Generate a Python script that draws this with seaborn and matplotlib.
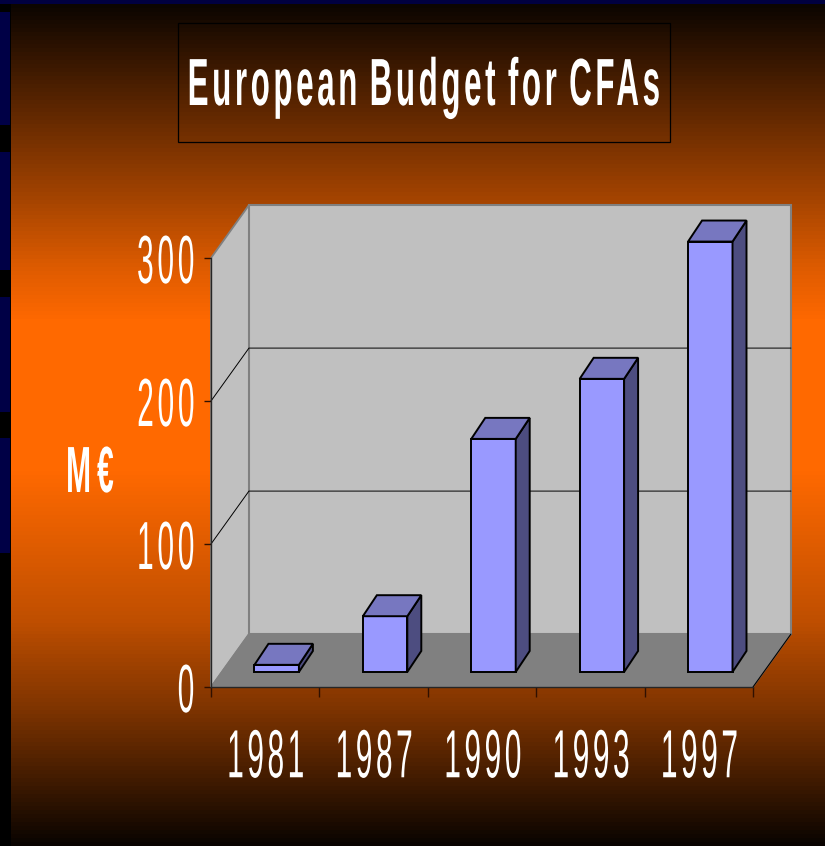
import matplotlib
matplotlib.use("Agg")
import matplotlib.pyplot as plt
from matplotlib.patches import Polygon, Rectangle
from matplotlib.path import Path
from matplotlib.patheffects import AbstractPathEffect
from matplotlib.transforms import Affine2D, Bbox, IdentityTransform
import numpy as np
import pandas as pd
import seaborn as sns

years = ['1981', '1987', '1990', '1993', '1997']
budget = [5, 39, 163, 205, 301]
y_ticks = [0, 100, 200, 300]

W, H = 825, 846
# depth of the fake 3d box in data units (category slots, M euro)
DEPTH_X, DEPTH_Y = 0.35, 37
BAR_SHIFT_X, BAR_SHIFT_Y = 0.106, 10.5
BAR_DEPTH_X, BAR_DEPTH_Y = 0.129, 14.7


class Squeeze(AbstractPathEffect):
    """Narrow a text and space its letters, no condensed font is installed"""

    def __init__(self, sx, track, anchor='center'):
        super().__init__()
        self.sx = sx
        self.track = track
        self.anchor = anchor

    def draw_path(self, renderer, gc, tpath, affine, rgbFace=None):
        verts = affine.transform(tpath.vertices)
        codes = tpath.codes
        real = codes != Path.CLOSEPOLY
        left, right = verts[real, 0].min(), verts[real, 0].max()
        cx = right if self.anchor == 'right' else (left + right) / 2

        # one piece per contour, pieces overlapping in x are the same letter
        pieces = np.split(np.arange(len(verts)), np.flatnonzero(codes == Path.MOVETO)[1:])
        pieces.sort(key=lambda p: verts[p[real[p]], 0].min())
        new = verts.copy()
        new[:, 0] = cx + (verts[:, 0] - cx) * self.sx
        letter = -1
        edge = -np.inf
        for p in pieces:
            if verts[p[real[p]], 0].min() > edge:
                letter += 1
            edge = max(edge, verts[p[real[p]], 0].max())
            new[p, 0] += letter * self.track
        new[:, 0] -= letter * self.track * (1 if self.anchor == 'right' else 0.5)
        renderer.draw_path(gc, Path(new, codes), IdentityTransform(), rgbFace)


def squeeze_text(text, sx, track, anchor='center'):
    text.set_path_effects([Squeeze(sx, track, anchor)])
    full_extent = text.get_window_extent

    # report the narrowed box, not the one of the unsqueezed string
    def narrow_extent(renderer=None, dpi=None):
        box = full_extent(renderer, dpi)
        width = box.width * sx + track * (len(text.get_text()) - 1)
        x1 = box.x1 if anchor == 'right' else (box.x0 + box.x1 + width) / 2
        return Bbox([[x1 - width, box.y0], [x1, box.y1]])

    text.get_window_extent = narrow_extent


sns.set_style("white")
plt.rcParams['font.family'] = ['Liberation Sans', 'DejaVu Sans']

fig = plt.figure(figsize=(W / 100, H / 100), dpi=100, facecolor='black')

# background gradient, black -> orange -> black, in bands like the slide
bg = fig.add_axes([0, 0, 1, 1], zorder=0)
bg.set_axis_off()
rows = np.arange(4, H, 4)
shade = np.interp(rows, [5, 140, 205, 270, 320, 470, 620, 710, 846],
                  [0.05, 0.47, 0.67, 0.88, 1, 1, 0.75, 0.49, 0.03])
levels = shade[:, None, None] * np.array([255, 105, 0]) / 255
bg.imshow(levels, extent=(11, W, H, 4), aspect='auto', interpolation='nearest')
bg.set_xlim(0, W)
bg.set_ylim(H, 0)
bg.add_patch(Rectangle((0, 0), W, 4, color='#000040', lw=0))
for y0, y1 in [(12, 125), (152, 270), (297, 412), (438, 553)]:
    bg.add_patch(Rectangle((0, y0), 10, y1 - y0, color='#000046', lw=0))
bg.add_patch(Rectangle((178, 23), 492, 119, fill=False, ec='black', lw=0.9))

ax = fig.add_axes([211 / W, (H - 687) / H, 542 / W, 429 / H], zorder=1)
df = pd.DataFrame({'year': years, 'budget': budget})
sns.barplot(data=df, x='year', y='budget', ax=ax, width=0.41, color='#9999ff', saturation=1,
            edgecolor='black', linewidth=1.4, zorder=3, clip_on=False)
ax.set_xlim(-0.5, 4.5)
ax.set_ylim(0, 300)
ax.patch.set_alpha(0)
bars = list(ax.patches)

# walls and floor
x0, x1 = -0.5, 4.5
top = max(y_ticks)
ax.add_patch(Polygon([(x0, 0), (x0 + DEPTH_X, DEPTH_Y), (x0 + DEPTH_X, top + DEPTH_Y), (x0, top)],
                     fc='#c0c0c0', ec='#808080', lw=1.3, zorder=0.5, clip_on=False))
ax.add_patch(Polygon([(x0 + DEPTH_X, DEPTH_Y), (x1 + DEPTH_X, DEPTH_Y), (x1 + DEPTH_X, top + DEPTH_Y),
                      (x0 + DEPTH_X, top + DEPTH_Y)],
                     fc='#c0c0c0', ec='#808080', lw=1.5, zorder=0.5, clip_on=False))
ax.add_patch(Polygon([(x0, 0), (x1, 0), (x1 + DEPTH_X, DEPTH_Y), (x0 + DEPTH_X, DEPTH_Y)],
                     fc='#808080', ec='#808080', lw=1, zorder=0.6, clip_on=False))
ax.plot([x1, x1 + DEPTH_X], [0, DEPTH_Y], color='black', lw=0.8, zorder=0.7, clip_on=False)
for t in y_ticks[1:-1]:
    ax.plot([x0, x0 + DEPTH_X, x1 + DEPTH_X], [t, t + DEPTH_Y, t + DEPTH_Y], color='black', lw=0.7,
            zorder=1, clip_on=False)

# move the bars back on the floor and give them a side and a top
shift = Affine2D().translate(BAR_SHIFT_X, BAR_SHIFT_Y) + ax.transData
for bar in bars:
    bar.set_transform(shift)
    left, right, h = bar.get_x(), bar.get_x() + bar.get_width(), bar.get_height()
    side = [(right, 0), (right + BAR_DEPTH_X, BAR_DEPTH_Y), (right + BAR_DEPTH_X, h + BAR_DEPTH_Y), (right, h)]
    lid = [(left, h), (right, h), (right + BAR_DEPTH_X, h + BAR_DEPTH_Y), (left + BAR_DEPTH_X, h + BAR_DEPTH_Y)]
    ax.add_patch(Polygon(side, fc='#4d4d80', ec='black', lw=1.4, zorder=3, clip_on=False, transform=shift))
    ax.add_patch(Polygon(lid, fc='#7777c0', ec='black', lw=1.4, zorder=3, clip_on=False, transform=shift))

sns.despine(ax=ax)
ax.spines['left'].set_linewidth(1.0)
ax.spines['bottom'].set_linewidth(1.0)
ax.set_xlabel('')
ax.set_ylabel('')
ax.set_yticks(y_ticks)
ax.set_yticklabels(y_ticks)
ax.set_xticks(np.arange(-0.5, 5), minor=True)
ax.tick_params(axis='x', which='minor', bottom=True, length=7, width=1.0, color='#301000')
ax.tick_params(axis='x', which='major', bottom=False, length=0, pad=29, labelsize=49, labelcolor='white')
ax.tick_params(axis='y', left=True, length=5, width=1.0, color='#301000', pad=6, labelsize=49,
               labelcolor='white')
for label in ax.get_xticklabels():
    squeeze_text(label, 0.44, 3.5)
for label in ax.get_yticklabels():
    squeeze_text(label, 0.44, 3.7, anchor='right')

title = fig.text(423 / W, 1 - 88 / H, 'European Budget for CFAs', color='white', fontsize=48, fontweight='bold',
                 ha='center', va='center', zorder=5)
squeeze_text(title, 0.47, 3.6)
unit = fig.text(89 / W, 1 - 475 / H, 'M€', color='white', fontsize=47, fontweight='bold', ha='center',
                va='center', zorder=5)
squeeze_text(unit, 0.46, 6)

fig.savefig('out.png', dpi=100, facecolor='black')
